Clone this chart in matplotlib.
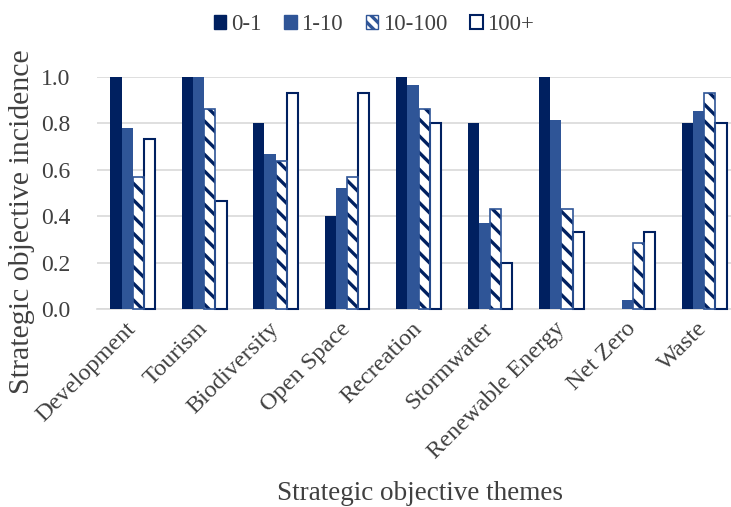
import numpy as np
import matplotlib as mpl
mpl.use('Agg')
import matplotlib.pyplot as plt
from matplotlib.patches import Patch

themes = ["Development", "Tourism", "Biodiversity", "Open Space", "Recreation",
          "Stormwater", "Renewable Energy", "Net Zero", "Waste"]
series_names = ["0-1", "1-10", "10-100", "100+"]
v_0_1 = [1.0, 1.0, 0.8, 0.4, 1.0, 0.8, 1.0, 0.0, 0.8]
v_1_10 = [0.78, 1.0, 0.667, 0.52, 0.965, 0.37, 0.815, 0.037, 0.852]
v_10_100 = [0.57, 0.86, 0.64, 0.57, 0.86, 0.43, 0.43, 0.286, 0.93]
v_100p = [0.733, 0.467, 0.933, 0.933, 0.8, 0.2, 0.333, 0.333, 0.8]

NAVY = '#002060'
MID = '#2F5597'
TXT = '#404040'

plt.rcParams['font.family'] = ['Liberation Serif', 'DejaVu Serif']
plt.rcParams['hatch.linewidth'] = 2.4
plt.rcParams['hatch.color'] = NAVY

fig = plt.figure(figsize=(7.31, 5.07), dpi=100)
ax = fig.add_axes([97/731, 1 - 309/507, 643/731, 232/507])

x = np.arange(len(themes))
w = 0.157
offs = (np.arange(4) - 1.5) * w

ax.bar(x + offs[0], v_0_1, w, color=NAVY, linewidth=0, zorder=3, clip_on=False)
ax.bar(x + offs[1], v_1_10, w, color=MID, linewidth=0, zorder=3, clip_on=False)
# hatched bars: hatch in navy, outline in lighter blue
ax.bar(x + offs[2], v_10_100, w, color='white', edgecolor=NAVY, hatch='\\\\', linewidth=0, zorder=3, clip_on=False)
ax.bar(x + offs[2], v_10_100, w, fill=False, edgecolor=MID, linewidth=1.2, zorder=4, clip_on=False)
ax.bar(x + offs[3], v_100p, w, color='white', edgecolor=NAVY, linewidth=1.5, zorder=3, clip_on=False)

ax.set_xlim(-0.5, len(themes) - 0.5)
ax.set_ylim(0, 1.0)
yt = np.arange(0, 1.01, 0.2)
ax.set_yticks(yt)
ax.set_yticklabels(["%.1f" % t for t in yt], fontsize=17, color=TXT)
ax.yaxis.grid(True, color='#D9D9D9', linewidth=1.2, zorder=0)
ax.set_axisbelow(True)
for s in ax.spines.values():
    s.set_visible(False)
ax.spines['bottom'].set_visible(True)
ax.spines['bottom'].set_color('#D9D9D9')
ax.spines['bottom'].set_linewidth(1.2)
ax.tick_params(axis='y', length=0, pad=19)
ax.set_xticks(x)
ax.set_xticklabels(themes, rotation=45, ha='right', va='center', rotation_mode='anchor',
                   fontsize=17.5, color=TXT)
ax.tick_params(axis='x', length=0, pad=12)

fig.text(22/731, 1 - 222/507, "Strategic objective incidence", rotation=90,
         ha='center', va='center', fontsize=21.5, color=TXT)
fig.text(420/731, 1 - 493/507, "Strategic objective themes", ha='center', va='center',
         fontsize=19.5, color=TXT)

handles = [Patch(facecolor=NAVY, edgecolor=NAVY),
           Patch(facecolor=MID, edgecolor=MID),
           Patch(facecolor='white', edgecolor=MID, hatch='\\\\\\'),
           Patch(facecolor='white', edgecolor=NAVY, linewidth=1.5)]
fig.legend(handles, series_names, loc='center', bbox_to_anchor=(374/731, 1 - 25/507), ncol=4,
           frameon=False, fontsize=16.5, handlelength=0.55, handleheight=0.55,
           handletextpad=0.2, columnspacing=1.0, labelcolor=TXT)

fig.savefig("out.png", dpi=100)
